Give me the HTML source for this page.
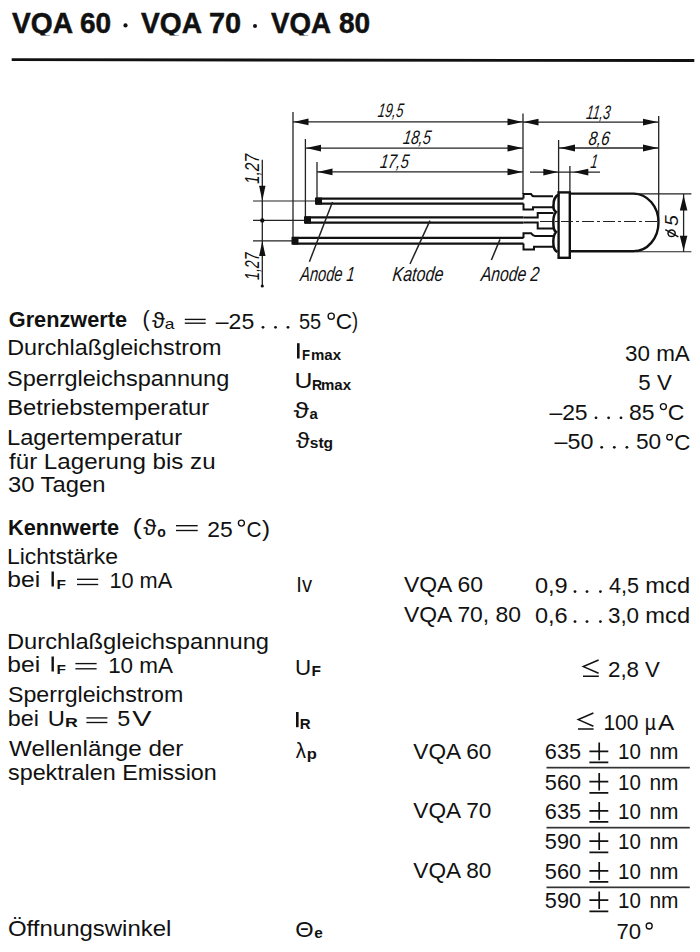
<!DOCTYPE html>
<html><head><meta charset="utf-8"><style>
html,body{margin:0;padding:0;background:#fff;}
body{width:700px;height:952px;overflow:hidden;}
svg{display:block;font-family:"Liberation Sans",sans-serif;}
</style></head><body>
<svg width="700" height="952" viewBox="0 0 700 952">
<rect width="700" height="952" fill="#fff"/>
<defs><clipPath id="tclip"><rect x="0" y="0" width="700" height="35.6"/></clipPath></defs><g clip-path="url(#tclip)">
<text x="11.98" y="33.30" font-size="29.1" font-weight="bold" font-style="normal" textLength="61.03" lengthAdjust="spacingAndGlyphs" fill="#111" stroke="#111" stroke-width="0.5">VQA</text>
<text x="79.93" y="33.30" font-size="29.1" font-weight="bold" font-style="normal" textLength="31.16" lengthAdjust="spacingAndGlyphs" fill="#111" stroke="#111" stroke-width="0.5">60</text>
<text x="141.00" y="33.30" font-size="29.1" font-weight="bold" font-style="normal" textLength="61.00" lengthAdjust="spacingAndGlyphs" fill="#111" stroke="#111" stroke-width="0.5">VQA</text>
<text x="208.93" y="33.30" font-size="29.1" font-weight="bold" font-style="normal" textLength="32.15" lengthAdjust="spacingAndGlyphs" fill="#111" stroke="#111" stroke-width="0.5">70</text>
<text x="271.00" y="33.30" font-size="29.1" font-weight="bold" font-style="normal" textLength="60.00" lengthAdjust="spacingAndGlyphs" fill="#111" stroke="#111" stroke-width="0.5">VQA</text>
<text x="338.93" y="33.30" font-size="29.1" font-weight="bold" font-style="normal" textLength="31.16" lengthAdjust="spacingAndGlyphs" fill="#111" stroke="#111" stroke-width="0.5">80</text>
</g>
<circle cx="125.5" cy="25.4" r="2.1" fill="#111"/>
<circle cx="255" cy="26" r="2" fill="#111"/>
<path d="M11.7 58.3 L694.3 59.1 L694.3 61.9 L11.7 61.1 Z" fill="#111"/>
<line x1="293" y1="112" x2="293" y2="241" stroke="#222" stroke-width="1.3"/>
<line x1="305.4" y1="139" x2="305.4" y2="221" stroke="#222" stroke-width="1.3"/>
<line x1="317" y1="162" x2="317" y2="201" stroke="#222" stroke-width="1.3"/>
<line x1="523" y1="113.6" x2="523" y2="194" stroke="#222" stroke-width="1.3"/>
<line x1="558.6" y1="140" x2="558.6" y2="193" stroke="#222" stroke-width="1.3"/>
<line x1="569.9" y1="166" x2="569.9" y2="193" stroke="#222" stroke-width="1.3"/>
<line x1="658.7" y1="116" x2="658.7" y2="221" stroke="#222" stroke-width="1.3"/>
<line x1="293" y1="121.9" x2="523" y2="121.9" stroke="#222" stroke-width="1.3"/>
<path d="M293.5 121.9 L308.5 118.5 L308.5 125.30000000000001 Z" fill="#111"/>
<path d="M522.5 121.9 L507.5 118.5 L507.5 125.30000000000001 Z" fill="#111"/>
<line x1="523" y1="122.1" x2="658.6" y2="122.1" stroke="#222" stroke-width="1.3"/>
<path d="M523.5 122.1 L538.5 118.69999999999999 L538.5 125.5 Z" fill="#111"/>
<path d="M658 122.1 L643 118.69999999999999 L643 125.5 Z" fill="#111"/>
<line x1="305.4" y1="148.1" x2="523" y2="148.1" stroke="#222" stroke-width="1.3"/>
<path d="M306 148.1 L321 144.7 L321 151.5 Z" fill="#111"/>
<path d="M522.5 148.1 L507.5 144.7 L507.5 151.5 Z" fill="#111"/>
<line x1="558.6" y1="148" x2="658.6" y2="148" stroke="#222" stroke-width="1.3"/>
<path d="M560 148 L575 144.6 L575 151.4 Z" fill="#111"/>
<path d="M658 148 L643 144.6 L643 151.4 Z" fill="#111"/>
<line x1="317" y1="171.9" x2="523" y2="171.9" stroke="#222" stroke-width="1.3"/>
<path d="M317.5 171.9 L332.5 168.5 L332.5 175.3 Z" fill="#111"/>
<path d="M522.5 171.9 L507.5 168.5 L507.5 175.3 Z" fill="#111"/>
<line x1="530" y1="172.1" x2="600" y2="172.1" stroke="#222" stroke-width="1.3"/>
<path d="M558.3 172.1 L543.3 168.7 L543.3 175.5 Z" fill="#111"/>
<path d="M573.3 172.1 L588.3 168.7 L588.3 175.5 Z" fill="#111"/>
<g transform="translate(377.23 117.00) skewX(-8)"><text x="0" y="0" font-size="19.5" font-weight="normal" font-style="italic" textLength="25.44" lengthAdjust="spacingAndGlyphs" fill="#111">19,5</text></g>
<g transform="translate(402.41 144.00) skewX(-8)"><text x="0" y="0" font-size="19.5" font-weight="normal" font-style="italic" textLength="27.88" lengthAdjust="spacingAndGlyphs" fill="#111">18,5</text></g>
<g transform="translate(379.41 168.20) skewX(-8)"><text x="0" y="0" font-size="19.5" font-weight="normal" font-style="italic" textLength="28.66" lengthAdjust="spacingAndGlyphs" fill="#111">17,5</text></g>
<g transform="translate(585.79 119.30) skewX(-8)"><text x="0" y="0" font-size="19.5" font-weight="normal" font-style="italic" textLength="23.94" lengthAdjust="spacingAndGlyphs" fill="#111">11,3</text></g>
<g transform="translate(588.00 145.00) skewX(-8)"><text x="0" y="0" font-size="19.5" font-weight="normal" font-style="italic" textLength="20.99" lengthAdjust="spacingAndGlyphs" fill="#111">8,6</text></g>
<g transform="translate(590.00 167.90) skewX(-8)"><text x="0" y="0" font-size="19.5" font-weight="normal" font-style="italic" textLength="7.00" lengthAdjust="spacingAndGlyphs" fill="#111">1</text></g>
<line x1="253" y1="201" x2="316" y2="201" stroke="#222" stroke-width="1.1"/>
<line x1="253" y1="220.4" x2="305" y2="220.4" stroke="#222" stroke-width="1.1"/>
<line x1="253" y1="240.9" x2="292" y2="240.9" stroke="#222" stroke-width="1.1"/>
<line x1="262.3" y1="159.7" x2="262.3" y2="286.6" stroke="#222" stroke-width="1.3"/>
<path d="M262.3 200.7 L259.1 185.7 L265.5 185.7 Z" fill="#111"/>
<path d="M262.3 240.9 L259.1 255.9 L265.5 255.9 Z" fill="#111"/>
<circle cx="262.3" cy="220.4" r="2.2" fill="#111"/>
<circle cx="262.3" cy="286" r="1.6" fill="#111"/>
<g transform="translate(259.00,184.10) rotate(-90)"><text x="0.00" y="0" font-size="19.5" font-style="italic" textLength="30.22" lengthAdjust="spacingAndGlyphs" fill="#111">1,27</text></g>
<g transform="translate(259.00,280.00) rotate(-90)"><text x="0.00" y="0" font-size="19.5" font-style="italic" textLength="27.57" lengthAdjust="spacingAndGlyphs" fill="#111">1,27</text></g>
<line x1="316" y1="198.6" x2="523.5" y2="198.6" stroke="#111" stroke-width="2.3"/>
<line x1="316" y1="203.6" x2="523.5" y2="203.6" stroke="#111" stroke-width="2.3"/>
<rect x="315" y="197.6" width="7" height="7.0" fill="#111"/>
<line x1="305" y1="217.4" x2="523.5" y2="217.4" stroke="#111" stroke-width="2.3"/>
<line x1="305" y1="222.6" x2="523.5" y2="222.6" stroke="#111" stroke-width="2.3"/>
<rect x="304" y="216.4" width="7" height="7.199999999999989" fill="#111"/>
<line x1="292.5" y1="237.9" x2="523.5" y2="237.9" stroke="#111" stroke-width="2.3"/>
<line x1="292.5" y1="243.6" x2="523.5" y2="243.6" stroke="#111" stroke-width="2.3"/>
<rect x="291.5" y="236.9" width="7" height="7.699999999999989" fill="#111"/>
<path d="M523.5 198.6 V194 H531 Q532 196.2 534 196.2 H553 M523.5 203.6 V209.6 H533 V207.2 H553" fill="none" stroke="#111" stroke-width="2"/>
<path d="M523.5 217.4 H537.7 V213 H553.5 M523.5 222.6 H537.7 V228.4 H553.5" fill="none" stroke="#111" stroke-width="2"/>
<path d="M523.5 237.9 V233.2 H531 Q533 236 535 236 H553.5 M523.5 243.6 V249.6 H534 V246.8 H553.5" fill="none" stroke="#111" stroke-width="2"/>
<rect x="558.6" y="192.4" width="11.2" height="65.4" fill="none" stroke="#111" stroke-width="2.4"/>
<path d="M559 194.5 Q553 197 553.5 206 Q553 210 556 212 Q552.5 216 553.5 226 Q553.5 230 556 232 Q552.5 236 553.5 246 Q554 250 557.5 252" fill="none" stroke="#111" stroke-width="2.5"/>
<path d="M570 193.6 H633.5 A25 28.85 0 0 1 633.5 251.3 H570" fill="none" stroke="#111" stroke-width="2.4"/>
<line x1="636" y1="193.9" x2="691.4" y2="193.9" stroke="#222" stroke-width="1.1"/>
<line x1="636" y1="251.8" x2="691.4" y2="251.8" stroke="#222" stroke-width="1.1"/>
<line x1="683.6" y1="194" x2="683.6" y2="252" stroke="#222" stroke-width="1.3"/>
<path d="M683.6 195.5 L679.8000000000001 210.5 L687.4 210.5 Z" fill="#111"/>
<path d="M683.6 250.7 L679.8000000000001 235.7 L687.4 235.7 Z" fill="#111"/>
<g transform="translate(678.10,225.90) rotate(-90)"><text x="0.00" y="0" font-size="19" font-style="italic" textLength="10.84" lengthAdjust="spacingAndGlyphs" fill="#111">5</text></g>
<ellipse cx="671.6" cy="233.3" rx="3.6" ry="3.3" fill="none" stroke="#111" stroke-width="1.5"/>
<line x1="665.3" y1="229.6" x2="678.4" y2="236.9" stroke="#111" stroke-width="1.4"/>
<line x1="540" y1="221.5" x2="660" y2="221.5" stroke="#222" stroke-width="1.2" stroke-dasharray="12 3 3 3"/>
<line x1="332.5" y1="202" x2="309.4" y2="261.7" stroke="#222" stroke-width="1.5"/>
<line x1="430" y1="220.6" x2="410" y2="264" stroke="#222" stroke-width="1.5"/>
<line x1="500" y1="239.4" x2="491.4" y2="260" stroke="#222" stroke-width="1.5"/>
<g transform="translate(299.73 280.50) skewX(-6)"><text x="0" y="0" font-size="20.5" font-weight="normal" font-style="italic" textLength="54.27" lengthAdjust="spacingAndGlyphs" fill="#111">Anode 1</text></g>
<g transform="translate(391.98 281.00) skewX(-6)"><text x="0" y="0" font-size="20.5" font-weight="normal" font-style="italic" textLength="50.83" lengthAdjust="spacingAndGlyphs" fill="#111">Katode</text></g>
<g transform="translate(480.38 281.40) skewX(-6)"><text x="0" y="0" font-size="20.5" font-weight="normal" font-style="italic" textLength="58.23" lengthAdjust="spacingAndGlyphs" fill="#111">Anode 2</text></g>
<text x="8.78" y="327.15" font-size="22" font-weight="bold" font-style="normal" textLength="118.23" lengthAdjust="spacingAndGlyphs" fill="#111">Grenzwerte</text>
<text x="142.58" y="326.35" font-size="22" font-weight="normal" font-style="normal" textLength="7.06" lengthAdjust="spacingAndGlyphs" fill="#111">(</text>
<text x="151.98" y="327.55" font-size="22" font-weight="normal" font-style="normal" textLength="12.82" lengthAdjust="spacingAndGlyphs" fill="#111">ϑ</text>
<text x="164.71" y="329.10" font-size="14.5" font-weight="normal" font-style="normal" textLength="9.71" lengthAdjust="spacingAndGlyphs" fill="#111">a</text>
<line x1="184.8" y1="319.40000000000003" x2="205.7" y2="319.40000000000003" stroke="#111" stroke-width="1.35"/>
<line x1="184.8" y1="323.2" x2="205.7" y2="323.2" stroke="#111" stroke-width="1.35"/>
<text x="215.78" y="329.05" font-size="22" font-weight="normal" font-style="normal" textLength="38.44" lengthAdjust="spacingAndGlyphs" fill="#111">–25</text>
<circle cx="263" cy="327.3" r="1.4" fill="#111"/>
<circle cx="275.5" cy="327.3" r="1.4" fill="#111"/>
<circle cx="288" cy="327.3" r="1.4" fill="#111"/>
<text x="298.89" y="329.05" font-size="22" font-weight="normal" font-style="normal" textLength="22.23" lengthAdjust="spacingAndGlyphs" fill="#111">55</text>
<circle cx="331.2" cy="316.2" r="3.1" fill="none" stroke="#111" stroke-width="1.35"/>
<text x="335.76" y="329.05" font-size="22" font-weight="normal" font-style="normal" textLength="16.38" lengthAdjust="spacingAndGlyphs" fill="#111">C</text>
<text x="352.00" y="327.85" font-size="22" font-weight="normal" font-style="normal" textLength="6.10" lengthAdjust="spacingAndGlyphs" fill="#111">)</text>
<text x="7.16" y="355.35" font-size="22" font-weight="normal" font-style="normal" textLength="214.26" lengthAdjust="spacingAndGlyphs" fill="#111">Durchlaßgleichstrom</text>
<text x="6.98" y="385.75" font-size="22" font-weight="normal" font-style="normal" textLength="222.25" lengthAdjust="spacingAndGlyphs" fill="#111">Sperrgleichspannung</text>
<text x="7.18" y="415.35" font-size="22" font-weight="normal" font-style="normal" textLength="202.02" lengthAdjust="spacingAndGlyphs" fill="#111">Betriebstemperatur</text>
<text x="6.98" y="444.65" font-size="22" font-weight="normal" font-style="normal" textLength="175.23" lengthAdjust="spacingAndGlyphs" fill="#111">Lagertemperatur</text>
<text x="9.00" y="468.65" font-size="22" font-weight="normal" font-style="normal" textLength="206.61" lengthAdjust="spacingAndGlyphs" fill="#111">für Lagerung bis zu</text>
<text x="7.97" y="492.05" font-size="22" font-weight="normal" font-style="normal" textLength="97.48" lengthAdjust="spacingAndGlyphs" fill="#111">30 Tagen</text>
<rect x="297" y="343.2" width="2.6" height="15.3" fill="#111"/>
<text x="301.93" y="359.50" font-size="15" font-weight="bold" font-style="normal" textLength="8.07" lengthAdjust="spacingAndGlyphs" fill="#111">F</text>
<text x="310.96" y="360.00" font-size="15" font-weight="bold" font-style="normal" textLength="30.04" lengthAdjust="spacingAndGlyphs" fill="#111">max</text>
<text x="294.55" y="388.35" font-size="22" font-weight="normal" font-style="normal" textLength="17.91" lengthAdjust="spacingAndGlyphs" fill="#111">U</text>
<text x="311.94" y="389.50" font-size="15" font-weight="bold" font-style="normal" textLength="10.13" lengthAdjust="spacingAndGlyphs" fill="#111">R</text>
<text x="320.96" y="390.00" font-size="15" font-weight="bold" font-style="normal" textLength="30.04" lengthAdjust="spacingAndGlyphs" fill="#111">max</text>
<text x="293.55" y="417.85" font-size="22" font-weight="normal" font-style="normal" textLength="15.45" lengthAdjust="spacingAndGlyphs" fill="#111">ϑ</text>
<text x="309.59" y="419.00" font-size="14" font-weight="bold" font-style="normal" textLength="8.31" lengthAdjust="spacingAndGlyphs" fill="#111">a</text>
<text x="296.00" y="447.65" font-size="22" font-weight="normal" font-style="normal" textLength="13.60" lengthAdjust="spacingAndGlyphs" fill="#111">ϑ</text>
<text x="309.76" y="447.70" font-size="15" font-weight="bold" font-style="normal" textLength="23.34" lengthAdjust="spacingAndGlyphs" fill="#111">stg</text>
<text x="624.98" y="360.65" font-size="22" font-weight="normal" font-style="normal" textLength="64.82" lengthAdjust="spacingAndGlyphs" fill="#111">30 mA</text>
<text x="638.34" y="390.05" font-size="22" font-weight="normal" font-style="normal" textLength="33.45" lengthAdjust="spacingAndGlyphs" fill="#111">5 V</text>
<text x="549.40" y="419.55" font-size="22" font-weight="normal" font-style="normal" textLength="38.23" lengthAdjust="spacingAndGlyphs" fill="#111">–25</text>
<circle cx="596" cy="417.8" r="1.4" fill="#111"/>
<circle cx="608.6" cy="417.8" r="1.4" fill="#111"/>
<circle cx="621" cy="417.8" r="1.4" fill="#111"/>
<text x="629.07" y="419.55" font-size="22" font-weight="normal" font-style="normal" textLength="25.54" lengthAdjust="spacingAndGlyphs" fill="#111">85</text>
<circle cx="663.4" cy="406.6" r="3.0" fill="none" stroke="#111" stroke-width="1.35"/>
<text x="667.84" y="419.85" font-size="22" font-weight="normal" font-style="normal" textLength="16.60" lengthAdjust="spacingAndGlyphs" fill="#111">C</text>
<text x="554.59" y="449.05" font-size="22" font-weight="normal" font-style="normal" textLength="38.84" lengthAdjust="spacingAndGlyphs" fill="#111">–50</text>
<circle cx="601.7" cy="447.3" r="1.4" fill="#111"/>
<circle cx="614.3" cy="447.3" r="1.4" fill="#111"/>
<circle cx="626.9" cy="447.3" r="1.4" fill="#111"/>
<text x="635.90" y="449.05" font-size="22" font-weight="normal" font-style="normal" textLength="25.20" lengthAdjust="spacingAndGlyphs" fill="#111">50</text>
<circle cx="669.6" cy="437.2" r="2.8" fill="none" stroke="#111" stroke-width="1.35"/>
<text x="674.30" y="449.85" font-size="22" font-weight="normal" font-style="normal" textLength="16.13" lengthAdjust="spacingAndGlyphs" fill="#111">C</text>
<text x="7.96" y="534.85" font-size="22" font-weight="bold" font-style="normal" textLength="111.07" lengthAdjust="spacingAndGlyphs" fill="#111">Kennwerte</text>
<text x="132.61" y="533.95" font-size="22" font-weight="normal" font-style="normal" textLength="9.32" lengthAdjust="spacingAndGlyphs" fill="#111">(</text>
<text x="143.20" y="534.95" font-size="22" font-weight="normal" font-style="normal" textLength="13.04" lengthAdjust="spacingAndGlyphs" fill="#111">ϑ</text>
<text x="157.35" y="537.20" font-size="14" font-weight="bold" font-style="normal" textLength="8.54" lengthAdjust="spacingAndGlyphs" fill="#111">o</text>
<line x1="176" y1="525.7" x2="197.7" y2="525.7" stroke="#111" stroke-width="1.35"/>
<line x1="176" y1="530.5" x2="197.7" y2="530.5" stroke="#111" stroke-width="1.35"/>
<text x="207.24" y="536.65" font-size="22" font-weight="normal" font-style="normal" textLength="25.44" lengthAdjust="spacingAndGlyphs" fill="#111">25</text>
<circle cx="241.4" cy="523.1" r="3.0" fill="none" stroke="#111" stroke-width="1.35"/>
<text x="246.47" y="536.85" font-size="22" font-weight="normal" font-style="normal" textLength="15.06" lengthAdjust="spacingAndGlyphs" fill="#111">C</text>
<text x="261.92" y="536.35" font-size="22" font-weight="normal" font-style="normal" textLength="8.04" lengthAdjust="spacingAndGlyphs" fill="#111">)</text>
<text x="6.94" y="563.95" font-size="22" font-weight="normal" font-style="normal" textLength="111.10" lengthAdjust="spacingAndGlyphs" fill="#111">Lichtstärke</text>
<text x="7.26" y="587.35" font-size="22" font-weight="normal" font-style="normal" textLength="32.90" lengthAdjust="spacingAndGlyphs" fill="#111">bei</text>
<rect x="51.5" y="571.5" width="2.4" height="15" fill="#111"/>
<text x="56.41" y="588.60" font-size="12.5" font-weight="bold" font-style="normal" textLength="9.44" lengthAdjust="spacingAndGlyphs" fill="#111">F</text>
<line x1="77" y1="579.3" x2="98.2" y2="579.3" stroke="#111" stroke-width="1.35"/>
<line x1="77" y1="584.5" x2="98.2" y2="584.5" stroke="#111" stroke-width="1.35"/>
<text x="109.38" y="588.35" font-size="22" font-weight="normal" font-style="normal" textLength="62.84" lengthAdjust="spacingAndGlyphs" fill="#111">10 mA</text>
<text x="296.32" y="591.95" font-size="22" font-weight="normal" font-style="normal" textLength="15.68" lengthAdjust="spacingAndGlyphs" fill="#111">Iv</text>
<text x="403.99" y="591.85" font-size="22" font-weight="normal" font-style="normal" textLength="79.01" lengthAdjust="spacingAndGlyphs" fill="#111">VQA 60</text>
<text x="403.99" y="621.85" font-size="22" font-weight="normal" font-style="normal" textLength="117.02" lengthAdjust="spacingAndGlyphs" fill="#111">VQA 70, 80</text>
<text x="534.92" y="593.35" font-size="22" font-weight="normal" font-style="normal" textLength="32.80" lengthAdjust="spacingAndGlyphs" fill="#111">0,9</text>
<circle cx="575" cy="591.6" r="1.4" fill="#111"/>
<circle cx="587" cy="591.6" r="1.4" fill="#111"/>
<circle cx="600.4" cy="591.6" r="1.4" fill="#111"/>
<text x="609.00" y="593.35" font-size="22" font-weight="normal" font-style="normal" textLength="30.04" lengthAdjust="spacingAndGlyphs" fill="#111">4,5</text>
<text x="645.32" y="593.35" font-size="22" font-weight="normal" font-style="normal" textLength="44.74" lengthAdjust="spacingAndGlyphs" fill="#111">mcd</text>
<text x="534.92" y="623.35" font-size="22" font-weight="normal" font-style="normal" textLength="32.73" lengthAdjust="spacingAndGlyphs" fill="#111">0,6</text>
<circle cx="575" cy="621.6" r="1.4" fill="#111"/>
<circle cx="587" cy="621.6" r="1.4" fill="#111"/>
<circle cx="600.4" cy="621.6" r="1.4" fill="#111"/>
<text x="607.93" y="623.35" font-size="22" font-weight="normal" font-style="normal" textLength="31.15" lengthAdjust="spacingAndGlyphs" fill="#111">3,0</text>
<text x="645.32" y="623.35" font-size="22" font-weight="normal" font-style="normal" textLength="44.74" lengthAdjust="spacingAndGlyphs" fill="#111">mcd</text>
<text x="6.97" y="648.65" font-size="22" font-weight="normal" font-style="normal" textLength="262.04" lengthAdjust="spacingAndGlyphs" fill="#111">Durchlaßgleichspannung</text>
<text x="7.26" y="672.35" font-size="22" font-weight="normal" font-style="normal" textLength="32.90" lengthAdjust="spacingAndGlyphs" fill="#111">bei</text>
<rect x="51.5" y="656.5" width="2.4" height="15" fill="#111"/>
<text x="56.41" y="673.60" font-size="12.5" font-weight="bold" font-style="normal" textLength="9.44" lengthAdjust="spacingAndGlyphs" fill="#111">F</text>
<line x1="75.4" y1="663.6" x2="96.6" y2="663.6" stroke="#111" stroke-width="1.35"/>
<line x1="75.4" y1="668.8000000000001" x2="96.6" y2="668.8000000000001" stroke="#111" stroke-width="1.35"/>
<text x="108.15" y="672.65" font-size="22" font-weight="normal" font-style="normal" textLength="64.87" lengthAdjust="spacingAndGlyphs" fill="#111">10 mA</text>
<text x="295.10" y="675.35" font-size="22" font-weight="normal" font-style="normal" textLength="16.11" lengthAdjust="spacingAndGlyphs" fill="#111">U</text>
<text x="311.48" y="676.30" font-size="15" font-weight="bold" font-style="normal" textLength="9.48" lengthAdjust="spacingAndGlyphs" fill="#111">F</text>
<path d="M598.6 660 L583.3 666.6 L598.6 673.2 M583 676.2 H598.8" fill="none" stroke="#111" stroke-width="1.5"/>
<text x="607.93" y="676.55" font-size="22" font-weight="normal" font-style="normal" textLength="31.15" lengthAdjust="spacingAndGlyphs" fill="#111">2,8</text>
<text x="645.00" y="676.55" font-size="22" font-weight="normal" font-style="normal" textLength="14.82" lengthAdjust="spacingAndGlyphs" fill="#111">V</text>
<text x="7.99" y="702.35" font-size="22" font-weight="normal" font-style="normal" textLength="175.24" lengthAdjust="spacingAndGlyphs" fill="#111">Sperrgleichstrom</text>
<text x="7.89" y="725.75" font-size="22" font-weight="normal" font-style="normal" textLength="31.08" lengthAdjust="spacingAndGlyphs" fill="#111">bei</text>
<text x="47.81" y="725.75" font-size="22" font-weight="normal" font-style="normal" textLength="17.17" lengthAdjust="spacingAndGlyphs" fill="#111">U</text>
<text x="65.11" y="727.00" font-size="13.5" font-weight="bold" font-style="normal" textLength="12.80" lengthAdjust="spacingAndGlyphs" fill="#111">R</text>
<line x1="86.4" y1="717.9000000000001" x2="107.4" y2="717.9000000000001" stroke="#111" stroke-width="1.35"/>
<line x1="86.4" y1="722.5" x2="107.4" y2="722.5" stroke="#111" stroke-width="1.35"/>
<text x="117.28" y="725.75" font-size="22" font-weight="normal" font-style="normal" textLength="13.01" lengthAdjust="spacingAndGlyphs" fill="#111">5</text>
<text x="132.38" y="725.75" font-size="22" font-weight="normal" font-style="normal" textLength="19.23" lengthAdjust="spacingAndGlyphs" fill="#111">V</text>
<rect x="296" y="712" width="2.6" height="15.2" fill="#111"/>
<text x="299.85" y="729.00" font-size="15" font-weight="bold" font-style="normal" textLength="10.85" lengthAdjust="spacingAndGlyphs" fill="#111">R</text>
<path d="M593.4 713 L578.3 719.6 L593.4 726.2 M578 729 H593.6" fill="none" stroke="#111" stroke-width="1.5"/>
<text x="603.44" y="729.55" font-size="22" font-weight="normal" font-style="normal" textLength="35.04" lengthAdjust="spacingAndGlyphs" fill="#111">100</text>
<text x="644.64" y="729.55" font-size="22" font-weight="normal" font-style="normal" textLength="11.32" lengthAdjust="spacingAndGlyphs" fill="#111">µ</text>
<text x="658.00" y="729.55" font-size="22" font-weight="normal" font-style="normal" textLength="16.23" lengthAdjust="spacingAndGlyphs" fill="#111">A</text>
<text x="9.00" y="756.05" font-size="22" font-weight="normal" font-style="normal" textLength="174.39" lengthAdjust="spacingAndGlyphs" fill="#111">Wellenlänge der</text>
<text x="7.99" y="780.35" font-size="22" font-weight="normal" font-style="normal" textLength="208.84" lengthAdjust="spacingAndGlyphs" fill="#111">spektralen Emission</text>
<text x="295.77" y="758.05" font-size="22" font-weight="normal" font-style="normal" textLength="10.23" lengthAdjust="spacingAndGlyphs" fill="#111">λ</text>
<text x="306.84" y="759.00" font-size="15" font-weight="bold" font-style="normal" textLength="10.10" lengthAdjust="spacingAndGlyphs" fill="#111">p</text>
<text x="413.39" y="759.25" font-size="22" font-weight="normal" font-style="normal" textLength="78.02" lengthAdjust="spacingAndGlyphs" fill="#111">VQA 60</text>
<text x="413.39" y="818.35" font-size="22" font-weight="normal" font-style="normal" textLength="78.02" lengthAdjust="spacingAndGlyphs" fill="#111">VQA 70</text>
<text x="413.39" y="878.05" font-size="22" font-weight="normal" font-style="normal" textLength="78.02" lengthAdjust="spacingAndGlyphs" fill="#111">VQA 80</text>
<text x="544.87" y="759.45" font-size="22" font-weight="normal" font-style="normal" textLength="36.22" lengthAdjust="spacingAndGlyphs" fill="#111">635</text>
<path d="M599.2 742.6 V760.2 M589.4 751.3 H608.3 M589.4 762.4 H608.3" fill="none" stroke="#111" stroke-width="1.7"/>
<text x="618.06" y="759.45" font-size="22" font-weight="normal" font-style="normal" textLength="22.81" lengthAdjust="spacingAndGlyphs" fill="#111">10</text>
<text x="649.45" y="759.45" font-size="22" font-weight="normal" font-style="normal" textLength="29.05" lengthAdjust="spacingAndGlyphs" fill="#111">nm</text>
<text x="544.87" y="789.85" font-size="22" font-weight="normal" font-style="normal" textLength="36.22" lengthAdjust="spacingAndGlyphs" fill="#111">560</text>
<path d="M599.2 773.0 V790.6 M589.4 781.7 H608.3 M589.4 792.8 H608.3" fill="none" stroke="#111" stroke-width="1.7"/>
<text x="618.06" y="789.85" font-size="22" font-weight="normal" font-style="normal" textLength="22.81" lengthAdjust="spacingAndGlyphs" fill="#111">10</text>
<text x="649.45" y="789.85" font-size="22" font-weight="normal" font-style="normal" textLength="29.05" lengthAdjust="spacingAndGlyphs" fill="#111">nm</text>
<text x="544.87" y="818.95" font-size="22" font-weight="normal" font-style="normal" textLength="36.22" lengthAdjust="spacingAndGlyphs" fill="#111">635</text>
<path d="M599.2 802.1 V819.7 M589.4 810.8 H608.3 M589.4 821.9 H608.3" fill="none" stroke="#111" stroke-width="1.7"/>
<text x="618.06" y="818.95" font-size="22" font-weight="normal" font-style="normal" textLength="22.81" lengthAdjust="spacingAndGlyphs" fill="#111">10</text>
<text x="649.45" y="818.95" font-size="22" font-weight="normal" font-style="normal" textLength="29.05" lengthAdjust="spacingAndGlyphs" fill="#111">nm</text>
<text x="544.87" y="849.35" font-size="22" font-weight="normal" font-style="normal" textLength="36.22" lengthAdjust="spacingAndGlyphs" fill="#111">590</text>
<path d="M599.2 832.5 V850.1 M589.4 841.2 H608.3 M589.4 852.3 H608.3" fill="none" stroke="#111" stroke-width="1.7"/>
<text x="618.06" y="849.35" font-size="22" font-weight="normal" font-style="normal" textLength="22.81" lengthAdjust="spacingAndGlyphs" fill="#111">10</text>
<text x="649.45" y="849.35" font-size="22" font-weight="normal" font-style="normal" textLength="29.05" lengthAdjust="spacingAndGlyphs" fill="#111">nm</text>
<text x="544.87" y="878.95" font-size="22" font-weight="normal" font-style="normal" textLength="36.22" lengthAdjust="spacingAndGlyphs" fill="#111">560</text>
<path d="M599.2 862.1 V879.7 M589.4 870.8 H608.3 M589.4 881.9 H608.3" fill="none" stroke="#111" stroke-width="1.7"/>
<text x="618.06" y="878.95" font-size="22" font-weight="normal" font-style="normal" textLength="22.81" lengthAdjust="spacingAndGlyphs" fill="#111">10</text>
<text x="649.45" y="878.95" font-size="22" font-weight="normal" font-style="normal" textLength="29.05" lengthAdjust="spacingAndGlyphs" fill="#111">nm</text>
<text x="544.87" y="908.35" font-size="22" font-weight="normal" font-style="normal" textLength="36.22" lengthAdjust="spacingAndGlyphs" fill="#111">590</text>
<path d="M599.2 891.5 V909.1 M589.4 900.2 H608.3 M589.4 911.3 H608.3" fill="none" stroke="#111" stroke-width="1.7"/>
<text x="618.06" y="908.35" font-size="22" font-weight="normal" font-style="normal" textLength="22.81" lengthAdjust="spacingAndGlyphs" fill="#111">10</text>
<text x="649.45" y="908.35" font-size="22" font-weight="normal" font-style="normal" textLength="29.05" lengthAdjust="spacingAndGlyphs" fill="#111">nm</text>
<rect x="546.5" y="766.8000000000001" width="143.3" height="1.7" fill="#333"/>
<rect x="546.5" y="826.8000000000001" width="143.3" height="1.7" fill="#333"/>
<rect x="546.5" y="886.5" width="143.3" height="1.7" fill="#333"/>
<text x="7.98" y="935.85" font-size="22" font-weight="normal" font-style="normal" textLength="163.44" lengthAdjust="spacingAndGlyphs" fill="#111">Öffnungswinkel</text>
<text x="295.33" y="937.35" font-size="22" font-weight="normal" font-style="normal" textLength="18.38" lengthAdjust="spacingAndGlyphs" fill="#111">Θ</text>
<text x="314.35" y="937.90" font-size="15" font-weight="bold" font-style="normal" textLength="8.54" lengthAdjust="spacingAndGlyphs" fill="#111">e</text>
<text x="616.43" y="938.55" font-size="22" font-weight="normal" font-style="normal" textLength="24.66" lengthAdjust="spacingAndGlyphs" fill="#111">70</text>
<circle cx="649.2" cy="926" r="3.0" fill="none" stroke="#111" stroke-width="1.35"/>
</svg>
</body></html>
